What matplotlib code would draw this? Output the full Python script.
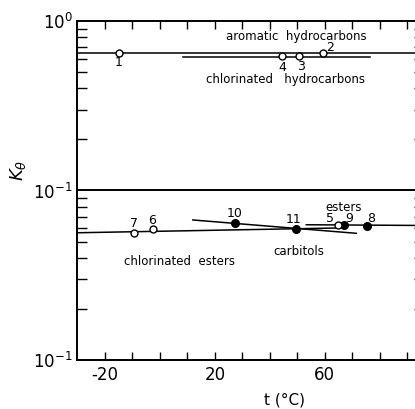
import matplotlib
matplotlib.use("Agg")
import matplotlib.pyplot as plt
from matplotlib.ticker import FixedLocator, LogLocator, NullFormatter, NullLocator

# values (t in deg C, K_theta)
aromatic_t = [-15.0, 59.2]
aromatic_k = [0.645, 0.645]
aromatic_ids = ["1", "2"]
aromatic_line_t = [-30.5, 94.0]
aromatic_line_k = [0.645, 0.645]

chlor_hc_t = [44.6, 50.7]
chlor_hc_k = [0.622, 0.622]
chlor_hc_ids = ["4", "3"]
chlor_hc_line_t = [8.4, 76.4]
chlor_hc_line_k = [0.617, 0.617]

chlor_est_t = [-9.4, -2.7]
chlor_est_k = [0.0564, 0.059]
chlor_est_ids = ["7", "6"]
chlor_est_line_t = [-30.5, 65.0]
chlor_est_line_k = [0.0563, 0.0601]

carbitol_t = [27.3, 49.5]
carbitol_k = [0.0640, 0.0595]
carbitol_ids = ["10", "11"]
carbitol_line_t = [12.0, 71.5]
carbitol_line_k = [0.0670, 0.0559]

ester_open_t = [65.0]
ester_open_k = [0.0624]
ester_filled_t = [67.0, 75.4]
ester_filled_k = [0.0624, 0.0620]
ester_ids = ["5", "9", "8"]
ester_line_t = [53.3, 94.0]
ester_line_k = [0.0628, 0.0622]

x_ticks = [-20, -10, 0, 10, 20, 30, 40, 50, 60, 70, 80, 90]
x_labels = ["-20", "", "", "", "20", "", "", "", "60", "", "", ""]
y_ticks = [1.0, 0.1, 0.01]
y_labels = [r"$10^{0}$", r"$10^{-1}$", r"$10^{-1}$"]

fig = plt.figure(figsize=(4.15, 4.09), dpi=100)
ax = fig.add_axes([0.1855, 0.1198, 0.82, 0.8289])
ax.set_yscale("log")
ax.set_xlim(-30.2, 93.7)
ax.set_ylim(0.01, 1.0)

lw = 1.1
# fitted lines
ax.plot(aromatic_line_t, aromatic_line_k, color="black", lw=lw)
ax.plot(chlor_hc_line_t, chlor_hc_line_k, color="black", lw=lw)
ax.plot(chlor_est_line_t, chlor_est_line_k, color="black", lw=lw)
ax.plot(carbitol_line_t, carbitol_line_k, color="black", lw=lw)
ax.plot(ester_line_t, ester_line_k, color="black", lw=lw)

# separator at 10^-1
ax.axhline(0.1, color="black", lw=1.4)

# points
open_kw = dict(ls="none", marker="o", ms=5, mfc="white", mec="black", mew=1.0, zorder=3)
fill_kw = dict(ls="none", marker="o", ms=5.5, mfc="black", mec="black", zorder=3)
ax.plot(aromatic_t, aromatic_k, **open_kw)
ax.plot(chlor_hc_t, chlor_hc_k, **open_kw)
ax.plot(chlor_est_t, chlor_est_k, **open_kw)
ax.plot(carbitol_t, carbitol_k, **fill_kw)
ax.plot(ester_filled_t, ester_filled_k, **fill_kw)
ax.plot(ester_open_t, ester_open_k, **open_kw)

# point numbers
def label_points(ts, ks, ids, offsets):
    for t, k, s, off in zip(ts, ks, ids, offsets):
        ax.annotate(s, (t, k), xytext=off, textcoords="offset points",
                    ha="center", va="center", fontsize=9)

label_points(aromatic_t, aromatic_k, aromatic_ids, [(0, -7), (5.5, 3.8)])
label_points(chlor_hc_t, chlor_hc_k, chlor_hc_ids, [(0, -8), (1, -7.5)])
label_points(chlor_est_t, chlor_est_k, chlor_est_ids, [(0, 6.5), (0, 6.5)])
label_points(carbitol_t, carbitol_k, carbitol_ids, [(0, 7), (-2, 6.5)])
label_points(ester_open_t + ester_filled_t, ester_open_k + ester_filled_k, ester_ids,
             [(-6, 4.5), (3.5, 4.5), (3, 5.5)])

# group names
txt = dict(ha="center", va="center", fontsize=8.5)
ax.text(49.6, 0.815, "aromatic  hydrocarbons", **txt)
ax.text(45.8, 0.449, "chlorinated   hydrocarbons", **txt)
ax.text(66.9, 0.0799, "esters", **txt)
ax.text(50.5, 0.0434, "carbitols", **txt)
ax.text(7.3, 0.0379, "chlorinated  esters", **txt)

# axes styling
for sp in ax.spines.values():
    sp.set_linewidth(1.4)

ax.xaxis.set_major_locator(FixedLocator(x_ticks))
ax.set_xticklabels(x_labels)
ax.tick_params(axis="x", which="major", direction="in", top=True, bottom=True,
               length=6, width=1.0, labelsize=12, pad=4)
ax.tick_params(axis="x", which="minor", top=False, bottom=False)

ax.yaxis.set_major_locator(FixedLocator(y_ticks))
ax.set_yticklabels(y_labels)
ax.yaxis.set_minor_locator(LogLocator(base=10, subs=range(2, 10)))
ax.yaxis.set_minor_formatter(NullFormatter())
ax.tick_params(axis="y", which="major", direction="in", left=True, right=False,
               length=0, labelsize=12, pad=3)
ax.tick_params(axis="y", which="minor", direction="in", left=True, right=False,
               length=7, width=1.0)

# short minor ticks on the right side
sec = ax.secondary_yaxis("right")
sec.yaxis.set_major_locator(NullLocator())
sec.yaxis.set_minor_locator(LogLocator(base=10, subs=range(2, 10)))
sec.yaxis.set_minor_formatter(NullFormatter())
sec.tick_params(axis="y", which="minor", direction="in", length=2.5, width=1.0)
sec.spines["right"].set_linewidth(1.4)

ax.set_xlabel("t (°C)", fontsize=11)
ax.xaxis.set_label_coords(0.61, -0.095)
ax.set_ylabel(r"$K_\theta$", fontsize=13)
ax.yaxis.set_label_coords(-0.144, 0.56)

fig.savefig("out.png", dpi=100)
